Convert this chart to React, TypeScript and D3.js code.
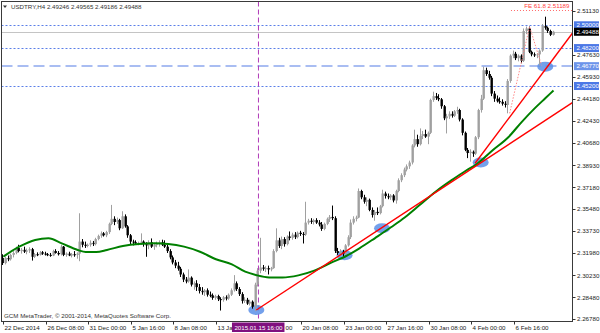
import React from 'react';
import * as d3 from 'd3';

const opens = [
2.3160,2.3120,2.3160,2.3150,2.3185,2.3200,2.3240,2.3215,2.3225,2.3210,
2.3220,2.3230,2.3170,2.3190,2.3185,2.3205,2.3195,2.3190,2.3185,2.3180,
2.3215,2.3200,2.3190,2.3250,2.3185,2.3195,2.3180,2.3190,2.3185,2.3195,
2.3290,2.3265,2.3255,2.3265,2.3280,2.3270,2.3310,2.3335,2.3355,2.3340,
2.3365,2.3430,2.3470,2.3445,2.3460,2.3395,2.3490,2.3410,2.3340,2.3290,
2.3285,2.3275,2.3280,2.3290,2.3270,2.3260,2.3285,2.3250,2.3265,2.3270,
2.3285,2.3265,2.3250,2.3215,2.3165,2.3125,2.3100,2.3075,2.3030,2.2990,
2.2975,2.3005,2.2950,2.2960,2.2930,2.2900,2.2890,2.2905,2.2870,2.2865,
2.2845,2.2860,2.2835,2.2830,2.2850,2.2840,2.2870,2.2905,2.2960,2.2915,
2.2875,2.2820,2.2830,2.2800,2.2815,2.2775,2.2950,2.3060,2.3085,2.3075,
2.3080,2.3070,2.3080,2.3215,2.3300,2.3255,2.3310,2.3270,2.3330,2.3320,
2.3345,2.3325,2.3360,2.3350,2.3345,2.3440,2.3455,2.3445,2.3460,2.3440,
2.3425,2.3390,2.3430,2.3470,2.3485,2.3475,2.3215,2.3200,2.3210,2.3195,
2.3260,2.3325,2.3440,2.3470,2.3480,2.3690,2.3640,2.3605,2.3620,2.3540,
2.3500,2.3525,2.3515,2.3570,2.3670,2.3650,2.3640,2.3655,2.3615,2.3690,
2.3775,2.3815,2.3860,2.3885,2.3915,2.4050,2.4100,2.4060,2.4125,2.4140,
2.4120,2.4150,2.4410,2.4440,2.4425,2.4415,2.4360,2.4265,2.4280,2.4300,
2.4285,2.4320,2.4330,2.4255,2.4150,2.4015,2.3990,2.4000,2.3985,2.4115,
2.4330,2.4420,2.4645,2.4615,2.4585,2.4460,2.4420,2.4400,2.4395,2.4380,
2.4370,2.4560,2.4760,2.4775,2.4740,2.4760,2.4720,2.4955,2.4975,2.4790,
2.4770,2.4765,2.4770,2.4800,2.4995,2.4980,2.4955,2.49246];

const highs = [
2.3190,2.3170,2.3180,2.3195,2.3215,2.3250,2.3265,2.3240,2.3250,2.3235,
2.3245,2.3240,2.3200,2.3205,2.3215,2.3215,2.3210,2.3200,2.3200,2.3225,
2.3230,2.3215,2.3265,2.3255,2.3205,2.3210,2.3200,2.3215,2.3205,2.3514,
2.3310,2.3290,2.3275,2.3300,2.3295,2.3320,2.3345,2.3370,2.3365,2.3375,
2.3440,2.3580,2.3490,2.3480,2.3470,2.3530,2.3505,2.3420,2.3350,2.3305,
2.3300,2.3290,2.3355,2.3300,2.3285,2.3300,2.3315,2.3280,2.3290,2.3300,
2.3305,2.3300,2.3265,2.3230,2.3180,2.3145,2.3130,2.3090,2.3045,2.3010,
2.3070,2.3015,2.2975,2.2985,2.2955,2.2930,2.2915,2.2920,2.2895,2.2880,
2.2870,2.2870,2.2850,2.2860,2.2865,2.2880,2.2920,2.3025,2.2975,2.2930,
2.2890,2.2850,2.2845,2.2830,2.2825,2.2965,2.3080,2.3320,2.3105,2.3095,
2.3100,2.3090,2.3230,2.3395,2.3320,2.3330,2.3325,2.3340,2.3370,2.3360,
2.3365,2.3370,2.3375,2.3365,2.3605,2.3470,2.3475,2.3470,2.3475,2.3460,
2.3445,2.3440,2.3480,2.3500,2.3575,2.3490,2.3240,2.3230,2.3225,2.3270,
2.3340,2.3465,2.3490,2.3495,2.3710,2.3700,2.3660,2.3640,2.3630,2.3560,
2.3540,2.3560,2.3580,2.3700,2.3685,2.3670,2.3665,2.3665,2.3700,2.3790,
2.3830,2.3875,2.3900,2.3930,2.4060,2.4175,2.4135,2.4185,2.4165,2.4175,
2.4160,2.4420,2.4475,2.4465,2.4455,2.4425,2.4370,2.4300,2.4320,2.4320,
2.4330,2.4356,2.4340,2.4265,2.4160,2.4030,2.4020,2.4010,2.4125,2.4340,
2.4450,2.4673,2.4665,2.4640,2.4600,2.4480,2.4445,2.4430,2.4415,2.4400,
2.4575,2.4770,2.4800,2.4790,2.4770,2.4770,2.4975,2.4990,2.4990,2.4800,
2.4785,2.4780,2.4810,2.5010,2.5068,2.4990,2.4965,2.49565];

const lows = [
2.3105,2.3110,2.3135,2.3140,2.3165,2.3190,2.3205,2.3195,2.3200,2.3190,
2.3200,2.3140,2.3160,2.3175,2.3180,2.3185,2.3180,2.3175,2.3170,2.3175,
2.3195,2.3180,2.3180,2.3175,2.3170,2.3175,2.3165,2.3170,2.3155,2.3135,
2.3245,2.3240,2.3245,2.3250,2.3255,2.3260,2.3300,2.3320,2.3330,2.3325,
2.3350,2.3420,2.3420,2.3430,2.3380,2.3390,2.3400,2.3320,2.3270,2.3260,
2.3265,2.3260,2.3265,2.3250,2.3170,2.3230,2.3240,2.3225,2.3245,2.3250,
2.3255,2.3240,2.3200,2.3150,2.3110,2.3080,2.3060,2.3010,2.2970,2.2960,
2.2965,2.2935,2.2910,2.2900,2.2880,2.2870,2.2860,2.2855,2.2850,2.2830,
2.2830,2.2820,2.2745,2.2815,2.2825,2.2830,2.2860,2.2895,2.2900,2.2860,
2.2800,2.2805,2.2790,2.2785,2.2760,2.2740,2.2935,2.3040,2.3060,2.3050,
2.3030,2.3055,2.3075,2.3205,2.3240,2.3230,2.3250,2.3260,2.3300,2.3305,
2.3310,2.3315,2.3335,2.3275,2.3335,2.3425,2.3430,2.3425,2.3430,2.3410,
2.3375,2.3380,2.3420,2.3445,2.3460,2.3200,2.3185,2.3180,2.3170,2.3185,
2.3250,2.3310,2.3425,2.3450,2.3475,2.3625,2.3590,2.3570,2.3530,2.3480,
2.3455,2.3500,2.3505,2.3560,2.3630,2.3625,2.3620,2.3600,2.3590,2.3680,
2.3760,2.3800,2.3845,2.3865,2.3900,2.4035,2.4040,2.4050,2.4100,2.4110,
2.4060,2.4140,2.4395,2.4410,2.4400,2.4340,2.4250,2.4145,2.4260,2.4270,
2.4275,2.4300,2.4240,2.4130,2.4005,2.3950,2.3922,2.3960,2.3975,2.4100,
2.4310,2.4410,2.4600,2.4570,2.4440,2.4395,2.4390,2.4380,2.4365,2.4350,
2.4304,2.4545,2.4740,2.4725,2.4715,2.4700,2.4710,2.4930,2.4780,2.4755,
2.4750,2.4740,2.4683,2.4790,2.4965,2.4940,2.4915,2.49186];

const closes = [
2.3120,2.3160,2.3150,2.3185,2.3200,2.3240,2.3215,2.3225,2.3210,2.3220,
2.3230,2.3170,2.3190,2.3185,2.3205,2.3195,2.3190,2.3185,2.3180,2.3215,
2.3200,2.3190,2.3250,2.3185,2.3195,2.3180,2.3190,2.3185,2.3195,2.3290,
2.3265,2.3255,2.3265,2.3280,2.3270,2.3310,2.3335,2.3355,2.3340,2.3365,
2.3430,2.3470,2.3445,2.3460,2.3395,2.3490,2.3410,2.3340,2.3290,2.3285,
2.3275,2.3280,2.3290,2.3270,2.3260,2.3285,2.3250,2.3265,2.3270,2.3285,
2.3265,2.3250,2.3215,2.3165,2.3125,2.3100,2.3075,2.3030,2.2990,2.2975,
2.3005,2.2950,2.2960,2.2930,2.2900,2.2890,2.2905,2.2870,2.2865,2.2845,
2.2860,2.2835,2.2830,2.2850,2.2840,2.2870,2.2905,2.2960,2.2915,2.2875,
2.2820,2.2830,2.2800,2.2815,2.2775,2.2950,2.3060,2.3085,2.3075,2.3080,
2.3070,2.3080,2.3215,2.3300,2.3255,2.3310,2.3270,2.3330,2.3320,2.3345,
2.3325,2.3360,2.3350,2.3345,2.3440,2.3455,2.3445,2.3460,2.3440,2.3425,
2.3390,2.3430,2.3470,2.3485,2.3475,2.3215,2.3200,2.3210,2.3195,2.3260,
2.3325,2.3440,2.3470,2.3480,2.3690,2.3640,2.3605,2.3620,2.3540,2.3500,
2.3525,2.3515,2.3570,2.3670,2.3650,2.3640,2.3655,2.3615,2.3690,2.3775,
2.3815,2.3860,2.3885,2.3915,2.4050,2.4100,2.4060,2.4125,2.4140,2.4120,
2.4150,2.4410,2.4440,2.4425,2.4415,2.4360,2.4265,2.4280,2.4300,2.4285,
2.4320,2.4330,2.4255,2.4150,2.4015,2.3990,2.4000,2.3985,2.4115,2.4330,
2.4420,2.4645,2.4615,2.4585,2.4460,2.4420,2.4400,2.4395,2.4380,2.4370,
2.4560,2.4760,2.4775,2.4740,2.4760,2.4720,2.4955,2.4975,2.4790,2.4770,
2.4765,2.4770,2.4800,2.4995,2.4980,2.4955,2.4925,2.49488];

const maBars = [0,6,12,17,22,28,31,35,39,45,51,57,62,68,74,80,86,91,95,100,105,111,117,123,129,134,140,146,151,157,163,169,174,178,184,190,195,200,204,207];
const maValues = [2.3171,2.3250,2.3303,2.3316,2.3276,2.3224,2.3208,2.3208,2.3224,2.3255,2.3271,2.3276,2.3271,2.3250,2.3210,2.3150,2.3110,2.3052,2.3026,2.3007,2.3007,2.3023,2.3060,2.3120,2.3176,2.3237,2.3320,2.3405,2.3480,2.3585,2.3690,2.3780,2.3850,2.3900,2.4010,2.4115,2.4235,2.4345,2.4425,2.4485];

const trendStartBars = [95.2, 177.5];
const trendStartPrices = [2.2749, 2.3909];
const trendEndBars = [214.1, 214.1];
const trendEndPrices = [2.4388, 2.4937];

const markBars = [95.2, 128.4, 142.5, 179.6, 203.9];
const markPrices = [2.2749, 2.3182, 2.3395, 2.3915, 2.4673];

const feBars = [190.5, 198, 202.5];
const fePrices = [2.4304, 2.4990, 2.4683];
const feLevel = 2.51189;
const feStartBar = 191;

const timeTickBars = [0,16,32,48,64,80,96,112,128,144,160,176,192];
const timeTickLabels = ["22 Dec 2014","26 Dec 08:00","31 Dec 00:00","5 Jan 16:00","8 Jan 08:00","13 Jan","00","20 Jan 08:00","23 Jan 00:00","27 Jan 16:00","30 Jan 08:00","4 Feb 00:00","6 Feb 16:00"];

const priceTicks = [2.5113,2.4763,2.4593,2.4418,2.4243,2.4068,2.3893,2.3718,2.3548,2.3373,2.3198,2.3023,2.2848,2.2678];
const dottedLevels = [2.5, 2.482, 2.452];
const dashedLevel = 2.4677;
const bidPrice = 2.49488;
const crossBar = 96;
const crossLabel = "2015.01.15 16:00";
const headerText = "USDTRY,H4 2.49246 2.49565 2.49186 2.49488";
const copyright = "GCM MetaTrader, \u00a9 2001-2014, MetaQuotes Software Corp.";

const W = 600, H = 333;
const PL = 1.5, PR = 572.5, PT = 1.5, PB = 321.5;
const FONT = "'Liberation Sans', Arial, sans-serif";
const FS = 6.2;

export default function App() {
  const x = d3.scaleLinear().domain([0, 214]).range([3.3, 3.3 + 214 * 2.658]);
  const y = d3.scaleLinear().domain([2.2678, 2.5113]).range([319, 11]);
  const ma = d3.line<number>().x((d, i) => x(maBars[i])).y(d => y(d)).curve(d3.curveMonotoneX);
  const fe = d3.line<number>().x((d, i) => x(feBars[i])).y(d => y(d));
  const cx = x(crossBar);
  const boxL = cx - 26.5, boxR = cx + 26;

  return (
    <div style={{ position: 'fixed', left: 0, top: 0, width: W, height: H, background: '#fff' }}>
      <svg width={W} height={H} style={{ display: 'block' }} fontFamily={FONT}>
        <defs>
          <clipPath id="plot"><rect x={PL} y={PT} width={PR - PL} height={PB - PT} /></clipPath>
        </defs>
        <rect x={0} y={0} width={W} height={H} fill="#fff" />
        <g clipPath="url(#plot)">
          {dottedLevels.map((p, i) => (
            <line key={'dl' + i} x1={PL} x2={PR} y1={Math.round(y(p)) + 0.5} y2={Math.round(y(p)) + 0.5} stroke="#5b7fe8" strokeDasharray="2,2" strokeWidth={1} />
          ))}
          <line x1={PL} x2={PR} y1={Math.round(y(dashedLevel))} y2={Math.round(y(dashedLevel))} stroke="#a9bdf2" strokeDasharray="11,5" strokeWidth={2} />
          <line x1={PL} x2={PR} y1={Math.round(y(bidPrice)) + 0.5} y2={Math.round(y(bidPrice)) + 0.5} stroke="#c4c4c4" strokeWidth={1} />
          <line x1={x(feStartBar)} x2={PR} y1={Math.round(y(feLevel)) + 0.5} y2={Math.round(y(feLevel)) + 0.5} stroke="#ff6a6a" strokeDasharray="1,2" strokeWidth={1} />
          <line x1={cx} x2={cx} y1={PT} y2={PB} stroke="#b03ab8" strokeDasharray="5,3" strokeWidth={1} />
          {markBars.map((b, i) => (
            <ellipse key={'m' + i} cx={x(b)} cy={y(markPrices[i])} rx={8} ry={5} fill="#5b8fe8" opacity={0.85} />
          ))}
          {closes.map((c, i) => {
            const o = opens[i];
            const up = c >= o;
            const col = up ? '#a0a0a0' : '#000';
            const xc = Math.round(x(i));
            const top = y(Math.max(o, c));
            const bot = y(Math.min(o, c));
            return (
              <g key={'c' + i}>
                <rect x={xc - 1} y={y(highs[i])} width={1} height={Math.max(1, y(lows[i]) - y(highs[i]))} fill={col} />
                <rect x={xc - 1.5} y={top} width={2.4} height={Math.max(1, bot - top)} fill={col} />
              </g>
            );
          })}
          <path d={ma(maValues) || ''} fill="none" stroke="#008000" strokeWidth={2} />
          {trendStartBars.map((b, i) => (
            <line key={'t' + i} x1={x(b)} y1={y(trendStartPrices[i])} x2={x(trendEndBars[i])} y2={y(trendEndPrices[i])} stroke="#ff0000" strokeWidth={1.4} />
          ))}
          <path d={fe(fePrices) || ''} fill="none" stroke="#ff8a8a" strokeDasharray="1.5,1.5" strokeWidth={1} />
          <text x={PR - 3} y={y(feLevel) - 2.5} textAnchor="end" fontSize={FS} fill="#ff4040">{'FE 61.8 ' + feLevel.toFixed(5)}</text>
        </g>
        <rect x={PL} y={PT} width={PR - PL} height={PB - PT} fill="none" stroke="#3a3a3a" strokeWidth={1} />
        <polygon points="3,5.5 7,5.5 5,8" fill="#333" />
        <text x={11} y={9} fontSize={FS} fill="#333">{headerText}</text>
        <text x={4} y={318} fontSize={FS} fill="#333">{copyright}</text>
        {priceTicks.map((p, i) => (
          <g key={'p' + i}>
            <line x1={PR} x2={PR + 3} y1={Math.round(y(p)) + 0.5} y2={Math.round(y(p)) + 0.5} stroke="#333" />
            <text x={577} y={y(p) + 2.2} fontSize={FS} fill="#222">{p.toFixed(5)}</text>
          </g>
        ))}
        {dottedLevels.concat([dashedLevel]).map((p, i) => (
          <g key={'lb' + i}>
            <rect x={574} y={y(p) - 4} width={25} height={8} fill={p === dashedLevel ? '#6d94ea' : '#4c78e6'} />
            <text x={576.5} y={y(p) + 2.2} fontSize={FS} fill="#fff">{p.toFixed(5)}</text>
          </g>
        ))}
        <rect x={574} y={y(bidPrice) - 4} width={25} height={8} fill="#000" />
        <text x={576.5} y={y(bidPrice) + 2.2} fontSize={FS} fill="#fff">{bidPrice.toFixed(5)}</text>
        {timeTickBars.map((b, i) => {
          const tx = Math.round(x(b)) + 0.5;
          const hidden = tx > boxL && tx < boxR;
          return (
            <g key={'tt' + i}>
              {!hidden && <line x1={tx} x2={tx} y1={PB} y2={PB + 3} stroke="#333" />}
              <text x={hidden ? boxR + 1 : tx + 1} y={329.5} fontSize={FS} fill="#222">{timeTickLabels[i]}</text>
            </g>
          );
        })}
        <rect x={boxL} y={322.5} width={boxR - boxL} height={9.5} fill="#80107f" />
        <text x={cx} y={330} textAnchor="middle" fontSize={FS} fill="#fff">{crossLabel}</text>
      </svg>
    </div>
  );
}
